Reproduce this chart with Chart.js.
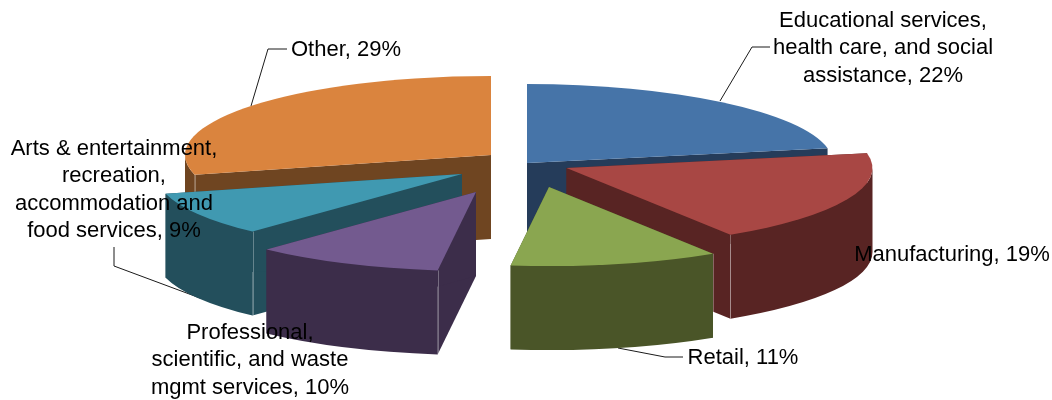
<!DOCTYPE html>
<html>
<head>
<meta charset="utf-8">
<style>
  html, body { margin: 0; padding: 0; background: #fff; }
  canvas { display: block; }
</style>
<script src="https://cdn.jsdelivr.net/npm/chart.js@4"></script>
</head>
<body>
<canvas id="pie" width="1052" height="400"></canvas>
<script>
// Data
const categories = [
  ["Educational services,", "health care, and social", "assistance"],
  ["Manufacturing"],
  ["Retail"],
  ["Professional,", "scientific, and waste", "mgmt services"],
  ["Arts & entertainment,", "recreation,", "accommodation and", "food services"],
  ["Other"]
];
const shares = [22, 19, 11, 10, 9, 29];

// Colours
const topColors = ["#4674A8", "#A84744", "#8AA650", "#735A8F", "#4099B1", "#DA843E"];
const wallColors = ["#253C5A", "#582423", "#4A5528", "#3C2D4A", "#234F5C", "#6F4521"];

// 3D look
const tilt = 79 / 306;
const depth = 84;
const explode = [[1, -37], [40.5, -32], [23, -13], [-50, -8], [-64, -26], [-35, -45]];
const drawOrder = [5, 0, 1, 4, 3, 2];

// Label placement: centre x, first line y
const labelSpots = [[883, 21], [952, 255], [743, 358], [250, 333], [114, 149], [346, 50]];
const lineHeight = 27.4;
const leaders = [
  [[770, 47], [752, 47], [720, 101]],
  null,
  [[683, 357], [665, 357], [618, 348]],
  null,
  [[114, 247], [114, 266], [200, 298]],
  [[287, 49], [268, 49], [251, 106]]
];

function drawSlice(ctx, arc, i) {
  const { startAngle, endAngle, outerRadius, x, y } = arc.getProps(["startAngle", "endAngle", "outerRadius", "x", "y"], true);
  const cx = x + explode[i][0];
  const cy = y + explode[i][1];
  const rx = outerRadius;
  const ry = outerRadius * tilt;

  // cut faces
  ctx.fillStyle = wallColors[i];
  [startAngle, endAngle].forEach(a => {
    const ex = cx + rx * Math.cos(a);
    const ey = cy + ry * Math.sin(a);
    ctx.beginPath();
    ctx.moveTo(cx, cy);
    ctx.lineTo(ex, ey);
    ctx.lineTo(ex, ey + depth);
    ctx.lineTo(cx, cy + depth);
    ctx.closePath();
    ctx.fill();
  });

  // outer face, only the part turned to the viewer
  const a0 = Math.max(startAngle, 0);
  const a1 = Math.min(endAngle, Math.PI);
  if (a1 > a0) {
    ctx.beginPath();
    ctx.ellipse(cx, cy, rx, ry, 0, a0, a1);
    ctx.ellipse(cx, cy + depth, rx, ry, 0, a1, a0, true);
    ctx.closePath();
    ctx.fill();

    // thin seam where the cut face meets the outer face
    const seamAngle = [startAngle, endAngle].find(a => a > 0 && a < Math.PI);
    if (seamAngle !== undefined) {
      const sx = cx + rx * Math.cos(seamAngle);
      const sy = cy + ry * Math.sin(seamAngle);
      ctx.strokeStyle = "rgba(255,255,255,0.3)";
      ctx.lineWidth = 1;
      ctx.beginPath();
      ctx.moveTo(Math.round(sx) + 0.5, sy);
      ctx.lineTo(Math.round(sx) + 0.5, sy + depth);
      ctx.stroke();
    }
  }

  // top
  ctx.fillStyle = arc.options.backgroundColor;
  ctx.beginPath();
  ctx.moveTo(cx, cy);
  ctx.ellipse(cx, cy, rx, ry, 0, startAngle, endAngle);
  ctx.closePath();
  ctx.fill();
}

const pie3d = {
  id: "pie3d",
  // replaces the flat drawing of the arcs
  beforeDatasetDraw(chart) {
    const ctx = chart.ctx;
    const arcs = chart.getDatasetMeta(0).data;

    // Leader lines go under the pie
    ctx.save();
    ctx.strokeStyle = "#1a1a1a";
    ctx.lineWidth = 1;
    leaders.forEach(points => {
      if (!points) return;
      ctx.beginPath();
      points.forEach((p, n) => {
        if (n === 0) ctx.moveTo(p[0], p[1]);
        else ctx.lineTo(p[0], p[1]);
      });
      ctx.stroke();
    });
    ctx.restore();

    ctx.save();
    drawOrder.forEach(i => drawSlice(ctx, arcs[i], i));
    ctx.restore();
    return false;
  },
  afterDraw(chart) {
    const ctx = chart.ctx;
    ctx.save();
    ctx.font = '22px "Liberation Sans"';
    ctx.fillStyle = "#000";
    ctx.textAlign = "center";
    ctx.textBaseline = "middle";
    categories.forEach((lines, i) => {
      lines.forEach((line, n) => {
        const text = n === lines.length - 1 ? line + ", " + shares[i] + "%" : line;
        ctx.fillText(text, labelSpots[i][0], labelSpots[i][1] + n * lineHeight);
      });
    });
    ctx.restore();
  }
};

new Chart(document.getElementById("pie"), {
  type: "pie",
  data: {
    labels: categories.map(c => c.join(" ")),
    datasets: [{
      data: shares,
      backgroundColor: topColors,
      borderWidth: 0
    }]
  },
  options: {
    responsive: false,
    animation: false,
    radius: 306,
    plugins: {
      legend: { display: false },
      tooltip: { enabled: false }
    }
  },
  plugins: [pie3d]
});
</script>
</body>
</html>
